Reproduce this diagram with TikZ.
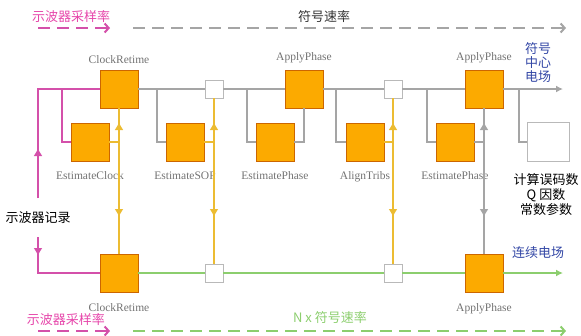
\documentclass[tikz,border=0pt]{standalone}
\usepackage{fontspec}
\setmainfont{Liberation Serif}
\newfontfamily\cjk{Noto Sans CJK SC}
\usetikzlibrary{arrows.meta,calc}
\definecolor{boxorange}{RGB}{252,170,0}
\definecolor{scopepink}{RGB}{212,80,170}
\definecolor{textpink}{RGB}{230,70,170}
\definecolor{tribyellow}{RGB}{236,188,50}
\definecolor{linegray}{RGB}{165,165,165}
\definecolor{fieldgreen}{RGB}{140,206,110}
\definecolor{labelblue}{RGB}{50,70,165}

\begin{document}
\begin{tikzpicture}[x=1pt,y=-1pt,
  blk/.style={draw=orange!80!black,fill=boxorange,minimum size=38pt,inner sep=0pt},
  tap/.style={draw=gray!55,fill=white,minimum size=18pt,inner sep=0pt},
  lbl/.style={text=black!55,font=\fontsize{11.5}{12}\selectfont},
  zh/.style={font=\cjk\fontsize{13}{15}\selectfont},
  flow/.style={line width=1.6pt},
  tip/.style={-{Latex[length=8pt,width=9pt]}},
  rate/.style={line width=2pt,dash pattern=on 12pt off 7pt,
    -{Straight Barb[length=4pt,width=9pt]}}]

\useasboundingbox (0,0) rectangle (581,335);

% blocks at symbol rate
\node[blk] (cr1) at (119,89) {};
\node[tap] (tap1) at (214,89) {};
\node[blk] (ap1) at (304,89) {};
\node[tap] (tap2) at (393,89) {};
\node[blk] (ap2) at (484,89) {};
\node[lbl,above=3pt] (cr1l) at (cr1.north) {ClockRetime};
\node[lbl,above=3pt] (ap1l) at (ap1.north) {ApplyPhase};
\node[lbl,above=3pt] (ap2l) at (ap2.north) {ApplyPhase};

% estimators
\node[blk] (ec) at (90,142) {};
\node[blk] (es) at (185,142) {};
\node[blk] (ep1) at (275,142) {};
\node[blk] (at) at (365,142) {};
\node[blk] (ep2) at (455,142) {};
\node[draw=gray!55,fill=white,minimum width=42pt,minimum height=39pt] (calc) at (548,142) {};
\node[lbl,below=7pt] (ecl) at (ec.south) {EstimateClock};
\node[lbl,below=7pt] (esl) at (es.south) {EstimateSOP};
\node[lbl,below=7pt] (ep1l) at (ep1.south) {EstimatePhase};
\node[lbl,below=7pt] (atl) at (at.south) {AlignTribs};
\node[lbl,below=7pt] (ep2l) at (ep2.south) {EstimatePhase};

% blocks at N x symbol rate
\node[blk] (cr2) at (119,273) {};
\node[tap] (tap3) at (214,273) {};
\node[tap] (tap4) at (393,273) {};
\node[blk] (ap3) at (484,273) {};
\node[lbl,below=8pt] (cr2l) at (cr2.south) {ClockRetime};
\node[lbl,below=8pt] (ap3l) at (ap3.south) {ApplyPhase};

\coordinate (rec) at (38,198);
\coordinate (rec2) at (38,237);
\coordinate (brc) at (62,89);
\coordinate (out) at (563,89);
\coordinate (outb) at (563,273);

% scope record
\begin{scope}[flow,scopepink]
\draw (rec) |- (cr1.west);
\draw[tip] (rec) -- ++(0,-50);
\draw (brc) |- (ec.west);
\draw (rec2) |- (cr2.west);
\draw[tip] (rec2) -- ++(0,19);
\end{scope}

% symbol rate field
\begin{scope}[flow,linegray]
\draw (cr1.east) -- (tap1.west);
\draw (tap1.east) -- (ap1.west);
\draw (ap1.east) -- (tap2.west);
\draw (tap2.east) -- (ap2.west);
\draw[-{Latex[length=7pt,width=7pt]}] (ap2.east) -- (out);
\foreach \bx/\tgt in {157/es,247/ep1,336/at,427/ep2,519/calc} {
  \coordinate (br-\tgt) at (\bx,89);
  \draw (br-\tgt) |- (\tgt.west);
}
\draw (ep1.east) -| (ap1.south);
\coordinate (jp) at (ap2 |- ep2);
\draw (ep2.east) -- (jp);
\draw (ap2.south) -- (ap3.north);
\draw[tip] (jp) -- ++(0,-20);
\draw[tip] (jp) -- ++(0,75);
\end{scope}

% estimates to both rates
\begin{scope}[flow,tribyellow]
\foreach \est/\up/\dn in {ec/cr1/cr2,es/tap1/tap3,at/tap2/tap4} {
  \coordinate (j-\est) at (\up |- \est);
  \draw (\est.east) -- (j-\est);
  \draw (\up.south) -- (\dn.north);
  \draw[tip] (j-\est) -- ++(0,-20);
  \draw[tip] (j-\est) -- ++(0,75);
}
\end{scope}

% N x symbol rate field
\begin{scope}[flow,fieldgreen]
\draw (cr2.east) -- (tap3.west);
\draw (tap3.east) -- (tap4.west);
\draw (tap4.east) -- (ap3.west);
\draw[-{Latex[length=7pt,width=7pt]}] (ap3.east) -- (outb);
\end{scope}

% rates
\coordinate (sr1) at (38,28);
\coordinate (sr1e) at (110,28);
\coordinate (sy1) at (133,28);
\coordinate (sy1e) at (566,28);
\coordinate (sr2) at (38,331);
\coordinate (sr2e) at (110,331);
\coordinate (sy2) at (133,331);
\coordinate (sy2e) at (566,331);
\draw[rate,scopepink] (sr1) -- (sr1e);
\draw[rate,linegray] (sy1) -- (sy1e);
\draw[rate,scopepink] (sr2) -- (sr2e);
\draw[rate,fieldgreen] (sy2) -- (sy2e);

\node[zh,text=textpink] (srt) at (71,17) {示波器采样率};
\node[zh,text=black!80] (symt) at (324,17) {符号速率};
\node[zh] (rect) at (38,218) {示波器记录};
\node[zh,text=labelblue,align=left,font=\cjk\fontsize{13}{14}\selectfont] (fct) at (538,63) {符号\\中心\\电场};
\node[zh,align=center] (calct) at (546,195) {计算误码数\\Q 因数\\常数参数};
\node[zh,text=labelblue] (cft) at (538,253) {连续电场};
\node[zh,text=textpink] (srb) at (66,320) {示波器采样率};
\node[zh,text=fieldgreen] (nsr) at (330,318) {N x 符号速率};
\end{tikzpicture}
\end{document}
